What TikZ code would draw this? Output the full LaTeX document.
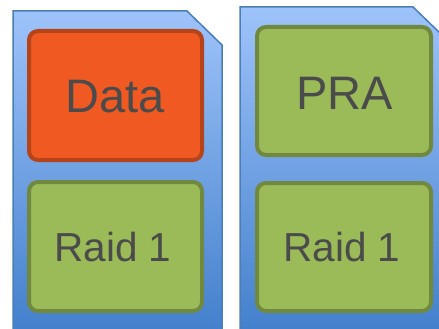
\documentclass[tikz,border=0pt]{standalone}
\usepackage{fontspec}
\setmainfont{Liberation Sans}
\definecolor{cardtop}{HTML}{9EC3FA}
\definecolor{cardbot}{HTML}{3F7DCA}
\definecolor{cardline}{HTML}{4A7EBB}
\definecolor{orfill}{HTML}{F05A22}
\definecolor{orline}{HTML}{B5441A}
\definecolor{grfill}{HTML}{9BBB59}
\definecolor{grline}{HTML}{71893F}
\definecolor{txt}{HTML}{4B4B4B}
\begin{document}
\begin{tikzpicture}[x=1pt,y=-1pt,
  card/.style={draw=cardline,line width=1.5pt,top color=cardtop,bottom color=cardbot},
  blk/.style={rounded corners=9pt,line width=4pt},
  orblk/.style={blk,draw=orline,fill=orfill},
  grblk/.style={blk,draw=grline,fill=grfill},
  big/.style={text=txt,font=\fontsize{47}{52}\selectfont},
  mid/.style={text=txt,font=\fontsize{40.5}{48}\selectfont}]
\useasboundingbox (0,0) rectangle (439,329);
\begin{scope}
\clip (0,0) rectangle (439,329);
\path[card] (13,11) -- (187,11) -- (222,45) -- (222,345) -- (13,345) -- cycle;
\path[card] (240,7) -- (413,7) -- (441,34) -- (441,345) -- (240,345) -- cycle;
\end{scope}
\draw[orblk] (29,31) rectangle (202,160);
\node[big] (data) at (115.5,97) {Data};
\draw[grblk] (29,182) rectangle (202,311);
\node[mid] (raidl) at (113,247) {Raid 1};
\draw[grblk] (257,27) rectangle (431,155);
\node[big] (pra) at (344.5,93) {PRA};
\draw[grblk] (257,183) rectangle (431,311);
\node[mid] (raidr) at (342,247) {Raid 1};
\end{tikzpicture}
\end{document}
